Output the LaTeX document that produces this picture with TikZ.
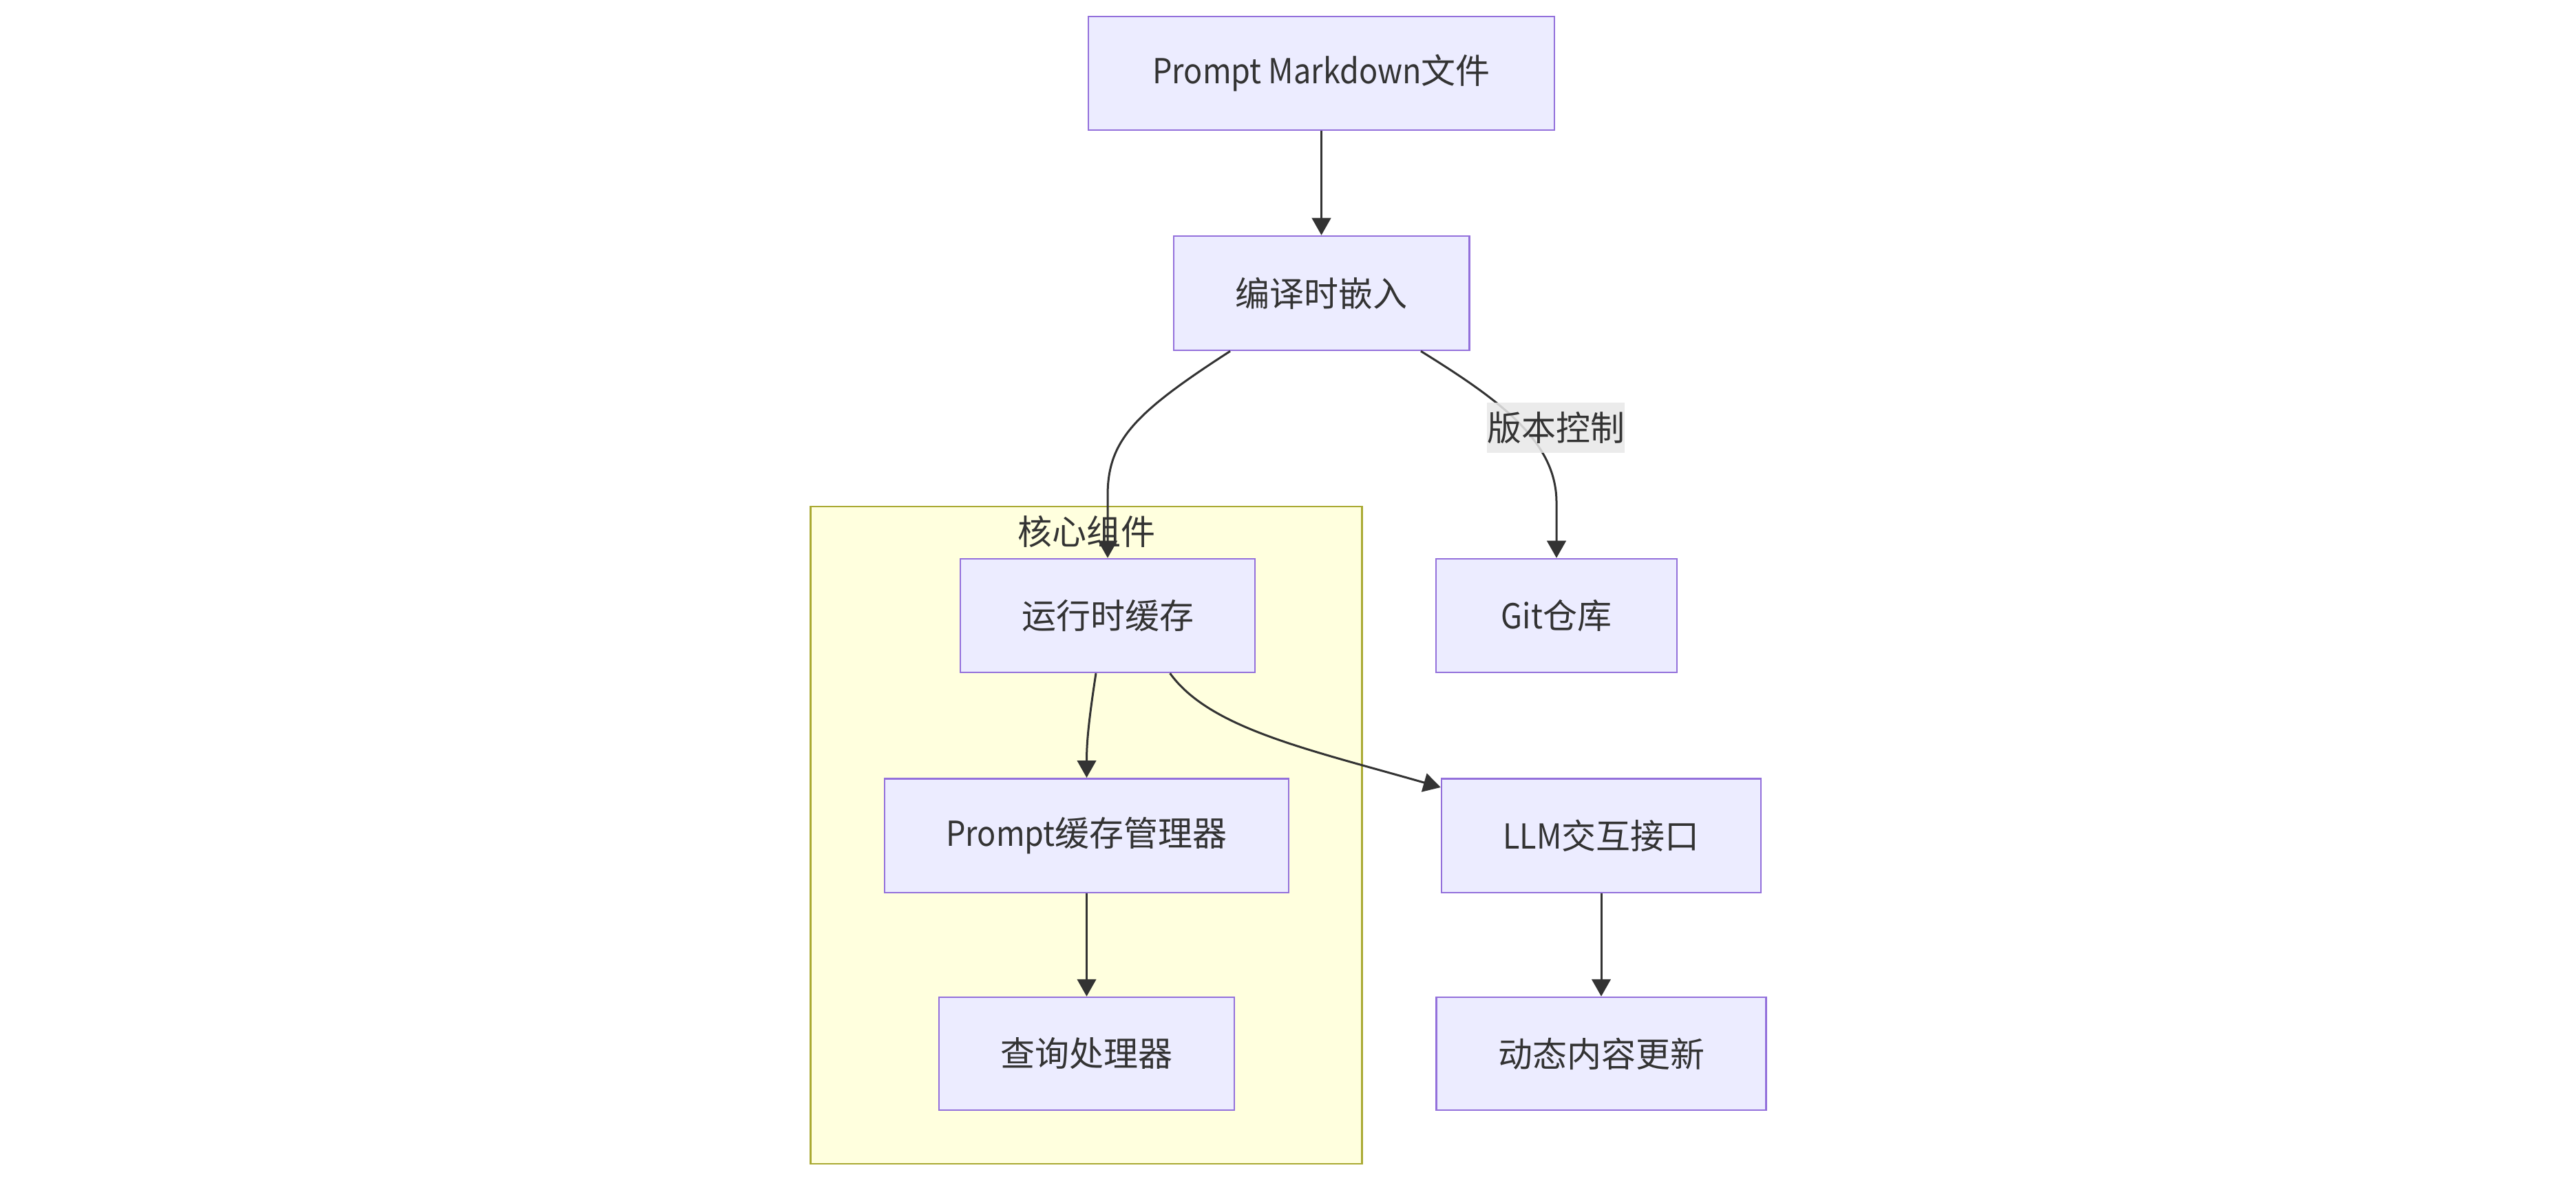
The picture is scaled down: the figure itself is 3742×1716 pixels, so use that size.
\documentclass[tikz,border=0pt]{standalone}
\usepackage{fontspec}
\setmainfont{Noto Sans CJK SC}
\newfontfamily\latn[FakeStretch=0.9]{Noto Sans CJK SC}
\usetikzlibrary{arrows.meta}
\definecolor{nodefill}{HTML}{ECECFF}
\definecolor{nodeborder}{HTML}{9370DB}
\definecolor{groupfill}{HTML}{FFFFDE}
\definecolor{groupborder}{HTML}{AAAA33}
\definecolor{txt}{HTML}{333333}
\definecolor{edgecol}{HTML}{333333}
\definecolor{lblbg}{HTML}{E8E8E8}
\begin{document}
\begin{tikzpicture}[x=0.2pt,y=-0.2pt,
  box/.style={draw=nodeborder, fill=nodefill, line width=0.5pt, text=txt,
    font=\fontsize{10}{12}\selectfont, inner sep=0pt, anchor=center, minimum height=33pt},
  group/.style={draw=groupborder, fill=groupfill, line width=0.5pt, inner sep=0pt, anchor=center},
  edge/.style={draw=edgecol, line width=0.6pt, -{Triangle[length=5pt,width=5.5pt]}},
  lbl/.style={fill=lblbg, fill opacity=0.85, text opacity=1, text=txt,
    font=\fontsize{10}{12}\selectfont, inner xsep=0pt, inner ysep=0pt, minimum height=14.6pt}]
\useasboundingbox (0,0) rectangle (3742,1716);
% subgraph
\node[group, minimum width=160.2pt, minimum height=191pt] (core) at (1578,1213.5) {};
\node[text=txt, font=\fontsize{10}{12}\selectfont, inner sep=0pt] (coretitle) at (1578,772) {核心组件};
% nodes
\node[box, minimum width=135.4pt] (A) at (1919.5,106.5) {{\latn Prompt Markdown}文件};
\node[box, minimum width=85.9pt, minimum height=33.2pt] (B) at (1919.5,426) {编译时嵌入};
\node[box, minimum width=85.6pt] (C) at (1609,894.5) {运行时缓存};
\node[box, minimum width=70pt] (G) at (2261,894.5) {{\latn Git}仓库};
\node[box, minimum width=117.4pt, minimum height=33.1pt] (D) at (1578.5,1214) {{\latn Prompt}缓存管理器};
\node[box, minimum width=92.8pt, minimum height=33.1pt] (L) at (2326,1214) {{\latn LLM}交互接口};
\node[box, minimum width=85.8pt, minimum height=32.8pt] (Q) at (1578.5,1531) {查询处理器};
\node[box, minimum width=95.8pt, minimum height=32.8pt] (U) at (2326,1531) {动态内容更新};
% edges
\draw[edge] (A.south) -- (B.north);
\draw[edge] ([xshift=-26.5pt]B.south) .. controls (1648,600) and (1609,640) .. (1609,720) -- (C.north);
\draw[edge] ([xshift=28.9pt]B.south) .. controls (2176,580) and (2261,640) .. (2261,730) -- (G.north);
\node[lbl] (vc) at (2260,622) {版本控制};
\draw[edge] ([xshift=-3.4pt]C.south) .. controls (1581,1050) and (1578.5,1080) .. (D.north);
\draw[edge] ([xshift=18.1pt]C.south) .. controls (1757,1058) and (1897,1088) .. ([yshift=-2.8pt]L.north west);
\draw[edge] (D.south) -- (Q.north);
\draw[edge] (L.south) -- (U.north);
\end{tikzpicture}
\end{document}
